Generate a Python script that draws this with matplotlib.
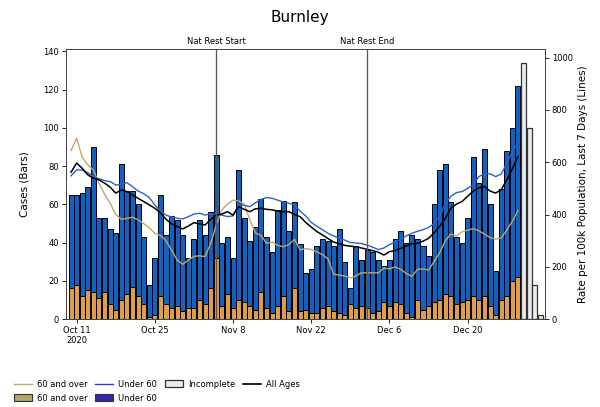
import matplotlib
matplotlib.use("Agg")
import matplotlib.pyplot as plt
import matplotlib.dates as mdates
import matplotlib.transforms as mtransforms
from matplotlib.patches import Patch
from matplotlib.lines import Line2D
import pandas as pd

# daily cases, 10 Oct 2020 onwards (complete days)
over60_cases = [16, 18, 12, 15, 14, 11, 14, 8, 5, 10,
                13, 17, 12, 8, 1, 2, 12, 8, 6, 7,
                4, 6, 6, 10, 8, 16, 32, 7, 13, 6,
                10, 9, 7, 5, 14, 6, 3, 7, 12, 4,
                16, 4, 5, 3, 3, 6, 7, 4, 3, 2,
                8, 6, 7, 6, 3, 4, 9, 7, 9, 8,
                3, 1, 10, 5, 7, 9, 10, 13, 12, 8,
                9, 10, 12, 10, 12, 7, 2, 10, 12, 20, 22]
under60_cases = [49, 47, 54, 54, 76, 42, 39, 39, 40, 71,
                 54, 50, 48, 35, 17, 30, 53, 36, 48, 45,
                 40, 26, 36, 42, 36, 40, 54, 33, 30, 26,
                 68, 44, 34, 43, 49, 37, 32, 50, 50, 42,
                 45, 35, 19, 23, 35, 36, 34, 34, 44, 28,
                 8, 32, 24, 30, 32, 27, 19, 24, 33, 38,
                 37, 43, 32, 33, 26, 51, 68, 68, 49, 35,
                 31, 43, 73, 61, 77, 53, 23, 58, 76, 80, 100]
incomplete_cases = [134, 100, 18, 2]

# rate per 100k, last 7 days
rate_all = [562, 597, 577, 552, 539, 533, 520, 505, 482, 494,
            488, 475, 462, 450, 437, 424, 407, 382, 364, 354,
            345, 356, 369, 364, 360, 382, 398, 402, 411, 398,
            430, 420, 411, 422, 424, 420, 418, 413, 411, 411,
            400, 392, 370, 352, 335, 322, 308, 295, 288, 282,
            279, 277, 272, 267, 262, 256, 245, 258, 262, 270,
            280, 288, 290, 298, 309, 330, 355, 385, 425, 440,
            450, 470, 490, 502, 507, 490, 482, 495, 533, 575, 622]
rate_under60 = [548, 571, 570, 560, 545, 537, 530, 526, 513, 515,
                522, 507, 490, 480, 465, 437, 412, 398, 390, 386,
                383, 392, 402, 405, 398, 403, 400, 398, 392, 395,
                437, 436, 430, 445, 458, 465, 462, 455, 448, 443,
                437, 413, 395, 370, 355, 342, 328, 318, 310, 302,
                293, 291, 289, 283, 275, 266, 272, 285, 295, 306,
                318, 328, 336, 342, 351, 365, 395, 443, 470, 484,
                488, 500, 515, 545, 556, 556, 545, 555, 597, 640, 675]
rate_over60 = [645, 692, 620, 590, 571, 520, 478, 443, 400, 382,
               385, 390, 380, 365, 350, 328, 320, 300, 264, 225,
               210, 226, 240, 242, 239, 290, 360, 418, 440, 455,
               452, 440, 380, 330, 320, 290, 295, 282, 277, 285,
               305, 265, 270, 266, 257, 247, 230, 172, 168, 165,
               158, 165, 177, 177, 177, 177, 195, 192, 200, 190,
               175, 163, 190, 192, 188, 220, 255, 300, 325, 318,
               334, 340, 346, 338, 325, 312, 306, 310, 341, 375, 415]

dates = pd.date_range("2020-10-10", periods=len(over60_cases))
inc_dates = pd.date_range(dates[-1] + pd.Timedelta(days=1), periods=len(incomplete_cases))

tick_dates = pd.to_datetime(["2020-10-11", "2020-10-25", "2020-11-08",
                             "2020-11-22", "2020-12-06", "2020-12-20"])
tick_labels = ["Oct 11\n2020", "Oct 25", "Nov 8", "Nov 22", "Dec 6", "Dec 20"]
events = {"Nat Rest Start": pd.Timestamp("2020-11-05"),
          "Nat Rest End": pd.Timestamp("2020-12-02")}

c_old = "#dd9d4c"
c_young = "#1560c0"
c_old_line = "#c2a66a"
c_young_line = "#2a62cc"

fig = plt.figure(figsize=(6, 4.07), dpi=100)
ax = fig.add_axes([0.11, 0.216, 0.798, 0.664])
ax2 = ax.twinx()

x = mdates.date2num(dates)
xi = mdates.date2num(inc_dates)
ax.bar(x, over60_cases, width=0.9, color=c_old, edgecolor="black", linewidth=0.7)
ax.bar(x, under60_cases, bottom=over60_cases, width=0.9, color=c_young,
       edgecolor="black", linewidth=0.7)
ax.bar(xi, incomplete_cases, width=0.9, color="#ececec", edgecolor="#333333", linewidth=0.9)

ax2.plot(x, rate_over60, color=c_old_line, lw=1.0)
ax2.plot(x, rate_under60, color=c_young_line, lw=1.0)
ax2.plot(x, rate_all, color="black", lw=1.1)

trans = mtransforms.blended_transform_factory(ax.transData, ax.transAxes)
for name, d in events.items():
    dn = mdates.date2num(d)
    ax2.axvline(dn, color="#555555", lw=0.9)
    ax.text(dn, 1.012, name, transform=trans, ha="center", va="bottom", fontsize=6)

ax.set_xlim(x[0] - 0.9, xi[-1] + 0.8)
ax.set_ylim(0, 141.3)
ax2.set_ylim(0, 1034)
ax.set_xticks(mdates.date2num(tick_dates))
ax.set_xticklabels(tick_labels)
ax.set_yticks(range(0, 141, 20))
ax2.set_yticks(range(0, 1001, 200))
for a in (ax, ax2):
    a.tick_params(labelsize=6, length=3, width=0.6, pad=2)
    for s in a.spines.values():
        s.set_linewidth(0.7)
        s.set_color("#444444")

ax.set_ylabel("Cases (Bars)", fontsize=7.5, labelpad=10)
ax2.set_ylabel("Rate per 100k Population, Last 7 Days (Lines)", fontsize=7.5)
fig.suptitle("Burnley", y=0.975, fontsize=11)

handles = [Line2D([], [], color=c_old_line, lw=1),
           Patch(facecolor="#b3a862", edgecolor="#333333", lw=0.8),
           Line2D([], [], color="#3a3ac4", lw=1),
           Patch(facecolor="#3428a8", edgecolor="#333333", lw=0.8),
           Patch(facecolor="#ececec", edgecolor="#333333", lw=0.9),
           Line2D([], [], color="black", lw=1.2)]
labels = ["60 and over", "60 and over", "Under 60", "Under 60", "Incomplete", "All Ages"]
fig.legend(handles, labels, loc="lower left", bbox_to_anchor=(0.01, -0.008), ncol=4,
           frameon=False, fontsize=6, handlelength=2.2, handleheight=0.9,
           columnspacing=0.9, labelspacing=0.6, handletextpad=0.6)

fig.savefig("out.png", dpi=100)
